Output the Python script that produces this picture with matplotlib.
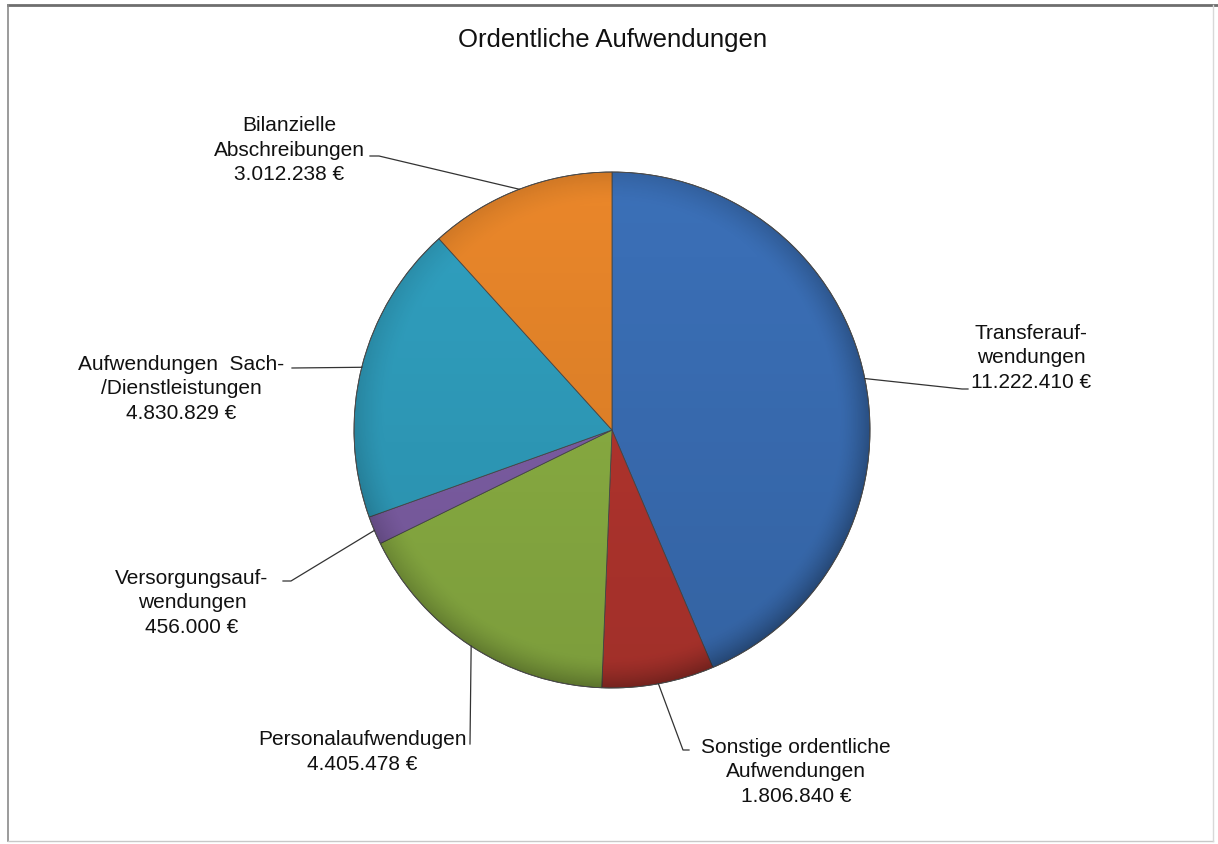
import matplotlib.pyplot as plt
import numpy as np
from matplotlib.patches import Circle

plt.rcParams["font.family"] = ["Liberation Sans", "DejaVu Sans"]

W, H = 1218, 845

TITLE = "Ordentliche Aufwendungen"

categories = [
    "Transferauf-\nwendungen",
    "Sonstige ordentliche\nAufwendungen",
    "Personalaufwendugen",
    "Versorgungsauf-\nwendungen",
    "Aufwendungen  Sach-\n/Dienstleistungen",
    "Bilanzielle\nAbschreibungen",
]
values = [11222410, 1806840, 4405478, 456000, 4830829, 3012238]
colors = ["#3b70b8", "#b7362f", "#8db244", "#8060a8", "#30a0c0", "#ea872a"]

# label layout in pixel coords: text centre, elbow of leader line, end of leader line
label_xy = [(1031, 358), (796, 772), (362, 752), (192, 603), (181, 389), (289, 150)]
elbow_xy = [(962, 390), (683, 751), (470, 745), (291, 582), (292, 369), (379, 157)]
end_xy = [(968, 390), (689, 751), (470, 745), (283, 582), (292, 369), (370, 157)]

CX, CY, R = 612, 431, 258


def fmt_eur(v: int) -> str:
    return f"{v:,}".replace(",", ".") + " €"


fig = plt.figure(figsize=(W / 100, H / 100), dpi=100)
ax = fig.add_axes([0, 0, 1, 1])

wedges, _ = ax.pie(
    values,
    colors=colors,
    startangle=-90,
    counterclock=True,
    center=(CX, CY),
    radius=R,
    wedgeprops=dict(edgecolor="#4a4a4a", linewidth=0.6),
)
ax.set_xlim(0, W)
ax.set_ylim(H, 0)
ax.set_aspect("equal")
ax.axis("off")

# soft shading similar to the office bevel look
n = 600
gx, gy = np.meshgrid(np.linspace(-1, 1, n), np.linspace(-1, 1, n))
s = np.sqrt(gx**2 + gy**2)
rim = np.clip((s - 0.88) / 0.12, 0, 1) ** 1.5
shade = np.zeros((n, n, 4))
alpha = 0.12 * (gy + 1) / 2 + 0.30 * rim * (0.6 + 0.4 * (gx + gy) / 2)
shade[..., 3] = np.clip(alpha, 0, 0.45)
im = ax.imshow(shade, extent=(CX - R, CX + R, CY + R, CY - R), zorder=3,
               interpolation="bilinear")
clip = Circle((CX, CY), R, transform=ax.transData)
im.set_clip_path(clip)
ax.add_patch(Circle((CX, CY), R, fill=False, edgecolor="#4a4a4a", lw=0.6, zorder=4))

# labels with leader lines from the slice midpoint on the rim
for w, cat, val, (tx, ty), (ex, ey), (lx, ly) in zip(
    wedges, categories, values, label_xy, elbow_xy, end_xy
):
    mid = np.deg2rad((w.theta1 + w.theta2) / 2)
    px, py = CX + R * np.cos(mid), CY + R * np.sin(mid)
    ax.plot([px, ex, lx], [py, ey, ly], color="#333333", lw=0.9, zorder=5)
    ax.text(tx, ty, f"{cat}\n{fmt_eur(val)}", ha="center", va="center",
            multialignment="center", fontsize=15, color="#111111",
            linespacing=1.38, zorder=6)

ax.text(613, 40, TITLE, ha="center", va="center", fontsize=18.5, color="#111111")

# chart frame
ax.plot([8, W], [6, 6], color="#6e6e6e", lw=2)
ax.plot([8, 8], [6, 842], color="#8a8a8a", lw=1.2)
ax.plot([8, 1213], [842, 842], color="#c8c8c8", lw=1)
ax.plot([1213, 1213], [6, 842], color="#d8d8d8", lw=1)

fig.savefig("out.png", dpi=100)
